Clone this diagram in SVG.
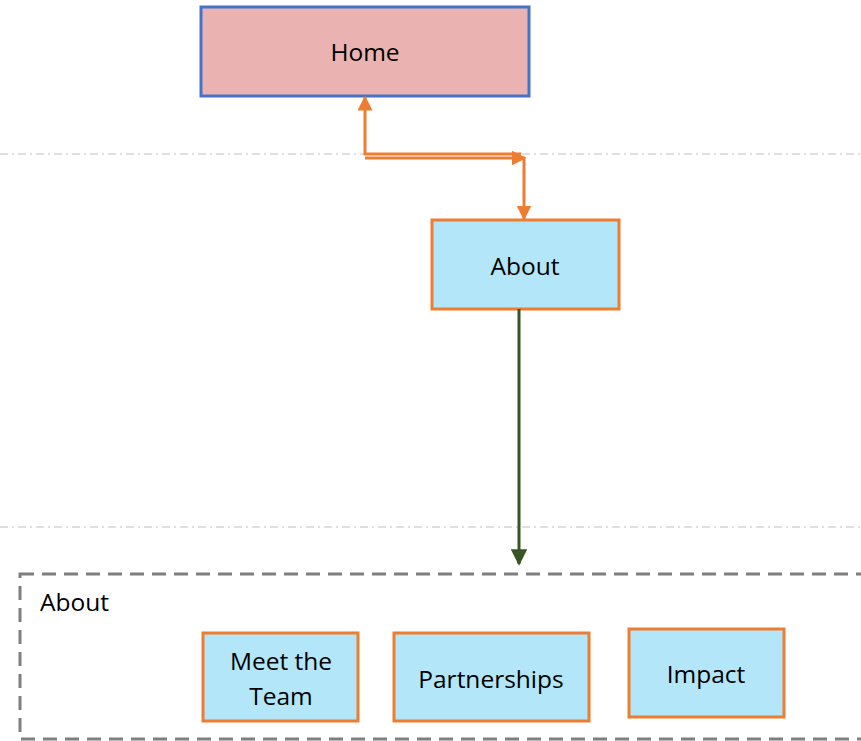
<svg xmlns="http://www.w3.org/2000/svg" width="861" height="741" viewBox="0 0 861 741">
<style>
  text { font-family: "Open Sans", "Noto Sans", "Liberation Sans", sans-serif; font-size: 24.5px; fill: #000; }
  .c { text-anchor: middle; dominant-baseline: central; }
  .page { fill: #B3E6F8; stroke: #ED7D31; stroke-width: 3; }
  .guide { stroke: #BFBFBF; stroke-width: 1.2; stroke-dasharray: 8 4 2 4; fill: none; }
  .orange { stroke: #ED7D31; stroke-width: 3; fill: none; }
</style>
<defs>
  <marker id="ao" viewBox="0 0 10 10" refX="9" refY="5" markerWidth="5" markerHeight="5" orient="auto" markerUnits="strokeWidth">
    <path d="M0,0 L10,5 L0,10 z" fill="#ED7D31"/>
  </marker>
  <marker id="ag" viewBox="0 0 10 10" refX="9" refY="5" markerWidth="5.5" markerHeight="5.5" orient="auto" markerUnits="strokeWidth">
    <path d="M0,0 L10,5 L0,10 z" fill="#375623"/>
  </marker>
</defs>
<g id="guides">
  <line class="guide" x1="0" y1="154" x2="861" y2="154"/>
  <line class="guide" x1="0" y1="527" x2="861" y2="527"/>
</g>
<g id="container-about">
  <rect x="20" y="574" width="860" height="165" fill="none" stroke="#7F7F7F" stroke-width="3" stroke-dasharray="14 8"/>
  <text x="40" y="611">About</text>
</g>
<g id="node-home">
  <rect x="201" y="7" width="328" height="89" fill="#EAB3B2" stroke="#4472C4" stroke-width="3"/>
  <text class="c" x="365" y="51">Home</text>
</g>
<g id="node-about">
  <rect class="page" x="432" y="220" width="187" height="89"/>
  <text class="c" x="525" y="265">About</text>
</g>
<g id="node-meet-the-team">
  <rect class="page" x="203" y="633" width="155" height="88"/>
  <text class="c" x="281" y="660">Meet the</text>
  <text class="c" x="281" y="695">Team</text>
</g>
<g id="node-partnerships">
  <rect class="page" x="394" y="633" width="195" height="88"/>
  <text class="c" x="491" y="678">Partnerships</text>
</g>
<g id="node-impact">
  <rect class="page" x="629" y="629" width="155" height="88"/>
  <text class="c" x="706" y="673">Impact</text>
</g>
<g id="connectors">
  <path class="orange" d="M521,154 H365 V97" marker-end="url(#ao)"/>
  <path class="orange" d="M365,158 H525" marker-end="url(#ao)"/>
  <path class="orange" d="M524,157 V219" marker-end="url(#ao)"/>
  <path d="M519,309 V564" stroke="#375623" stroke-width="3" fill="none" marker-end="url(#ag)"/>
</g>
</svg>
